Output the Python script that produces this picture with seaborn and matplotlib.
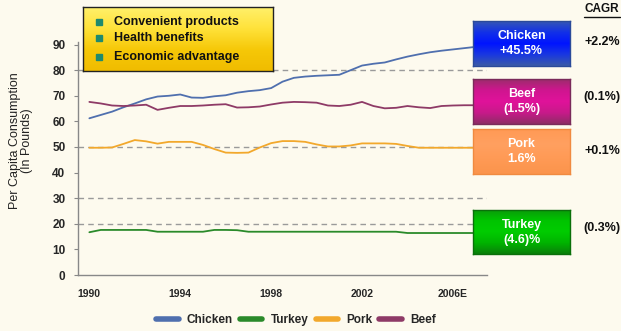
import numpy as np
import pandas as pd
import matplotlib
matplotlib.use("Agg")
import matplotlib.pyplot as plt
import seaborn as sns
from matplotlib.colors import LinearSegmentedColormap
from matplotlib.lines import Line2D

# ---------------- data ----------------
years = [1990.0, 1990.5, 1991.0, 1991.5, 1992.0, 1992.5, 1993.0, 1993.5, 1994.0, 1994.5,
         1995.0, 1995.5, 1996.0, 1996.5, 1997.0, 1997.5, 1998.0, 1998.5, 1999.0, 1999.5,
         2000.0, 2000.5, 2001.0, 2001.5, 2002.0, 2002.5, 2003.0, 2003.5, 2004.0, 2004.5,
         2005.0, 2005.5, 2006.0, 2006.5, 2006.9]
chicken = [61.2, 62.5, 63.8, 65.5, 67.0, 68.6, 69.7, 70.0, 70.5, 69.3,
           69.2, 69.8, 70.2, 71.2, 71.8, 72.2, 73.0, 75.5, 77.0, 77.5,
           77.8, 78.0, 78.2, 80.0, 81.8, 82.5, 83.0, 84.2, 85.3, 86.2,
           87.0, 87.6, 88.1, 88.6, 89.0]
beef = [67.6, 67.0, 66.2, 66.0, 66.2, 66.5, 64.5, 65.3, 66.0, 66.0,
        66.2, 66.5, 66.7, 65.4, 65.5, 65.8, 66.6, 67.3, 67.6, 67.5,
        67.3, 66.2, 66.0, 66.5, 67.6, 66.0, 65.1, 65.3, 66.0, 65.5,
        65.2, 66.0, 66.2, 66.3, 66.3]
pork = [49.7, 49.7, 49.8, 51.2, 52.7, 52.2, 51.3, 52.0, 52.0, 52.0,
        50.8, 49.2, 47.8, 47.7, 47.8, 49.8, 51.5, 52.3, 52.3, 52.0,
        51.0, 50.2, 50.2, 50.6, 51.4, 51.4, 51.4, 51.2, 50.4, 49.7,
        49.7, 49.7, 49.7, 49.7, 49.7]
turkey = [16.7, 17.6, 17.6, 17.6, 17.6, 17.6, 16.9, 16.9, 16.9, 16.9,
          16.9, 17.6, 17.6, 17.5, 16.9, 16.9, 16.9, 16.9, 16.9, 16.9,
          16.9, 16.9, 16.9, 16.9, 16.9, 16.9, 16.9, 16.9, 16.4, 16.4,
          16.4, 16.4, 16.4, 16.4, 16.4]

series_names = ["Chicken", "Turkey", "Pork", "Beef"]
series_colors = ["#4f6fae", "#2a8a2a", "#f2a82c", "#8e3a66"]
year_ticks = [1990, 1994, 1998, 2002, 2006]
year_labels = ["1990", "1994", "1998", "2002", "2006E"]
y_ticks = [0, 10, 20, 30, 40, 50, 60, 70, 80, 90]
grid_levels = [20, 30, 50, 80]

drivers = ["Convenient products", "Health benefits", "Economic advantage"]
box_titles = ["Chicken", "Beef", "Pork", "Turkey"]
box_changes = ["+45.5%", "(1.5%)", "1.6%", "(4.6)%"]
cagr_values = ["+2.2%", "(0.1%)", "+0.1%", "(0.3%)"]

# ---------------- style ----------------
sns.set_theme(style="white")
plt.rcParams["font.family"] = ["Liberation Sans", "DejaVu Sans"]
BG = "#fdfaee"
W, H = 621, 331

fig = plt.figure(figsize=(W / 100, H / 100), dpi=100, facecolor=BG)
ax = fig.add_axes([78 / W, 1 - 275 / H, 409 / W, 233 / H])
ax.set_facecolor(BG)

df = pd.DataFrame({
    "Year": years * 4,
    "Value": chicken + turkey + pork + beef,
    "Series": sum([[n] * len(years) for n in series_names], []),
})
palette = dict(zip(series_names, series_colors))
sns.lineplot(data=df, x="Year", y="Value", hue="Series", palette=palette,
             estimator=None, sort=False, linewidth=1.3, legend=False, ax=ax, zorder=3)

for g in grid_levels:
    ax.axhline(g, color="#9a9a9a", lw=1.0, ls=(0, (4, 3)), zorder=1)

ax.set_xlim(1989.5, 2007.5)
ax.set_ylim(0, 91)
ax.set_xlabel("")
ax.set_ylabel("")
ax.set_xticks(year_ticks)
ax.set_xticklabels(year_labels, fontsize=7.5, fontweight="bold")
ax.set_xticks(np.arange(1990.5, 2008, 1.0), minor=True)
ax.set_yticks(y_ticks)
ax.set_yticklabels([str(v) for v in y_ticks], fontsize=8.5, fontweight="bold")
ax.tick_params(axis="x", which="major", length=0, pad=10)
ax.tick_params(axis="x", which="minor", length=3, direction="inout", color="#888888", width=0.8)
ax.tick_params(axis="y", length=3, direction="out", color="#888888", width=0.8, pad=6, left=True)
for s in ["top", "right"]:
    ax.spines[s].set_visible(False)
for s in ["left", "bottom"]:
    ax.spines[s].set_color("#888888")
    ax.spines[s].set_linewidth(1.0)

fig.text(21 / W, 1 - 141 / H, "Per Capita Consumption\n(In Pounds)", rotation=90,
         ha="center", va="center", fontsize=9, linespacing=1.05, color="#222222")


def grad_box(x0, y0, x1, y1, colors, edge):
    bax = fig.add_axes([x0 / W, 1 - y1 / H, (x1 - x0) / W, (y1 - y0) / H])
    cmap = LinearSegmentedColormap.from_list("g", colors)
    bax.imshow(np.linspace(0, 1, 100).reshape(-1, 1), aspect="auto", cmap=cmap,
               extent=[0, 1, 0, 1], origin="upper")
    bax.set_xlim(0, 1)
    bax.set_ylim(0, 1)
    bax.set_xticks([])
    bax.set_yticks([])
    for sp in bax.spines.values():
        sp.set_color(edge)
        sp.set_linewidth(1.0)
    return bax


# top yellow driver box
lax = grad_box(83, 7, 273, 71, ["#fff06a", "#ffe23a", "#f6c808", "#f0bc00"], "#222222")
row_y = [21.7, 38.3, 56.7]
for lbl, ry in zip(drivers, row_y):
    fy = 1 - (ry - 7) / 64
    lax.plot([(99 - 83) / 190], [fy], marker="s", ms=4.5, color="#1f8a6e", mec="#1f8a6e")
    lax.text((114 - 83) / 190, fy, lbl, ha="left", va="center", fontsize=9,
             fontweight="bold", color="#111111")

# right coloured boxes
box_specs = [
    (20.7, 65.7, ["#3557b5", "#1230e8", "#0014ff", "#1a38e0", "#3a5aa8"], "#2a4a9a"),
    (79.0, 124.0, ["#9c2c6c", "#d01590", "#e0129a", "#c81a8a", "#8e2c66"], "#7a2a5a"),
    (129.3, 174.3, ["#ff9a55", "#ffa060", "#ff9a55", "#fb944c"], "#f08a40"),
    (210.0, 254.3, ["#0a9a0a", "#00c400", "#00cc00", "#00b400", "#0a800a"], "#0a700a"),
]
for (y0, y1, cols, edge), t, c in zip(box_specs, box_titles, box_changes):
    b = grad_box(473, y0, 570, y1, cols, edge)
    b.text(0.5, 0.5, f"{t}\n{c}", ha="center", va="center", color="white",
           fontsize=9, fontweight="bold", linespacing=1.35)

# CAGR column
fig.text(602 / W, 1 - 9 / H, "CAGR", ha="center", va="center", fontsize=8.5,
         fontweight="bold", color="#111111")
fig.add_artist(Line2D([584 / W, 620 / W], [1 - 17 / H, 1 - 17 / H],
                      color="#111111", lw=1.0, transform=fig.transFigure))
cagr_y = [41.7, 96.7, 150.7, 227.7]
for v, cy in zip(cagr_values, cagr_y):
    fig.text(602 / W, 1 - cy / H, v, ha="center", va="center", fontsize=9,
             fontweight="bold", color="#111111")

# bottom legend
handles = [Line2D([0], [0], color=c, lw=4) for c in series_colors]
fig.legend(handles, series_names, loc="center", bbox_to_anchor=(296 / W, 1 - 320 / H),
           ncol=4, frameon=False, prop={"weight": "bold", "size": 8.5},
           handlelength=1.9, handletextpad=0.7, columnspacing=0.6)

fig.savefig("out.png", dpi=100, facecolor=BG)
